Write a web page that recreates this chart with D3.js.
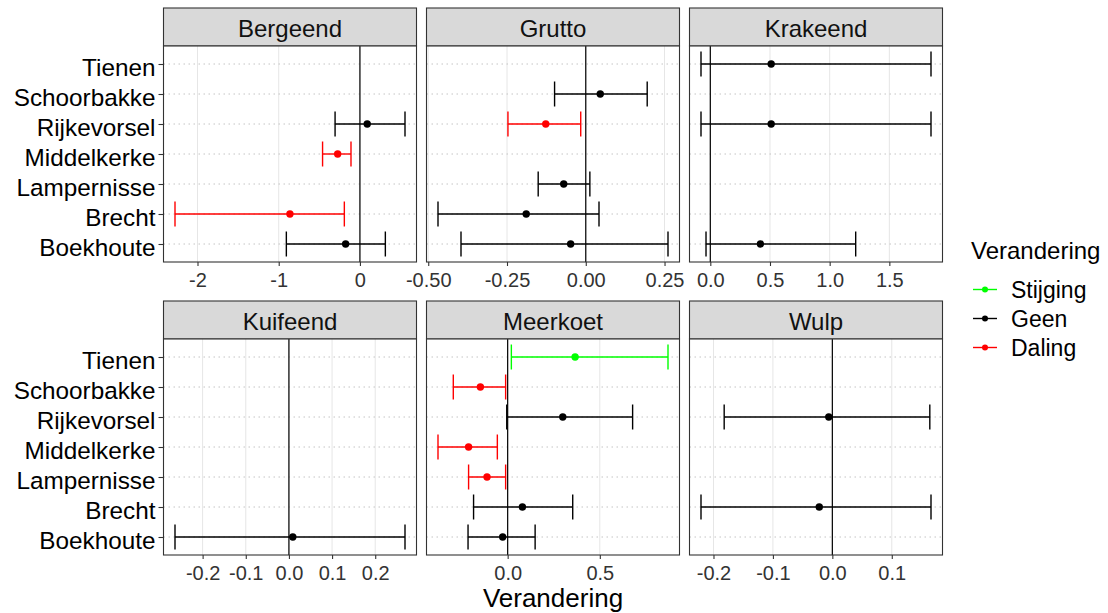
<!DOCTYPE html>
<html>
<head>
<meta charset="utf-8">
<script src="https://cdn.jsdelivr.net/npm/d3@7"></script>
<style>
	body { margin: 0; background: #fff; }
	text { font-family: "Liberation Sans", Arial, sans-serif; }
</style>
</head>
<body>
<div id="chart"></div>
<script>
// facets, sites (bottom to top) and legend levels
const species = ["Bergeend", "Grutto", "Krakeend", "Kuifeend", "Meerkoet", "Wulp"];
const sites = ["Boekhoute", "Brecht", "Lampernisse", "Middelkerke", "Rijkevorsel", "Schoorbakke", "Tienen"];
const changeLevels = ["Stijging", "Geen", "Daling"];
const changeColors = ["#00FF00", "#000000", "#FF0000"];

// one entry per estimate
const rowSpecies = [
	"Bergeend", "Bergeend", "Bergeend", "Bergeend",
	"Grutto", "Grutto", "Grutto", "Grutto", "Grutto",
	"Krakeend", "Krakeend", "Krakeend",
	"Kuifeend",
	"Meerkoet", "Meerkoet", "Meerkoet", "Meerkoet", "Meerkoet", "Meerkoet", "Meerkoet",
	"Wulp", "Wulp"];
const rowSite = [
	"Rijkevorsel", "Middelkerke", "Brecht", "Boekhoute",
	"Schoorbakke", "Rijkevorsel", "Lampernisse", "Brecht", "Boekhoute",
	"Tienen", "Rijkevorsel", "Boekhoute",
	"Boekhoute",
	"Tienen", "Schoorbakke", "Rijkevorsel", "Middelkerke", "Lampernisse", "Brecht", "Boekhoute",
	"Rijkevorsel", "Brecht"];
const rowEstimate = [
	0.09, -0.274, -0.862, -0.176,
	0.046, -0.127, -0.070, -0.189, -0.048,
	0.51, 0.51, 0.42,
	0.009,
	0.366, -0.148, 0.299, -0.212, -0.112, 0.080, -0.027,
	-0.006, -0.022];
const rowLower = [
	-0.306, -0.46, -2.277, -0.906,
	-0.099, -0.247, -0.151, -0.469, -0.396,
	-0.078, -0.078, -0.036,
	-0.264,
	0.020, -0.295, -0.005, -0.378, -0.212, -0.185, -0.215,
	-0.182, -0.221];
const rowUpper = [
	0.555, -0.11, -0.192, 0.313,
	0.195, -0.016, 0.013, 0.042, 0.261,
	1.849, 1.849, 1.218,
	0.269,
	0.870, -0.011, 0.678, -0.056, -0.011, 0.353, 0.149,
	0.164, 0.166];
const rowChange = [
	"Geen", "Daling", "Daling", "Geen",
	"Geen", "Daling", "Geen", "Geen", "Geen",
	"Geen", "Geen", "Geen",
	"Geen",
	"Stijging", "Daling", "Geen", "Daling", "Daling", "Geen", "Geen",
	"Geen", "Geen"];

// x tick values and labels per facet
const bergeendTicks = [-2, -1, 0];
const bergeendLabels = ["-2", "-1", "0"];
const gruttoTicks = [-0.5, -0.25, 0, 0.25];
const gruttoLabels = ["-0.50", "-0.25", "0.00", "0.25"];
const krakeendTicks = [0, 0.5, 1, 1.5];
const krakeendLabels = ["0.0", "0.5", "1.0", "1.5"];
const kuifeendTicks = [-0.2, -0.1, 0, 0.1, 0.2];
const kuifeendLabels = ["-0.2", "-0.1", "0.0", "0.1", "0.2"];
const meerkoetTicks = [0, 0.5];
const meerkoetLabels = ["0.0", "0.5"];
const wulpTicks = [-0.2, -0.1, 0, 0.1];
const wulpLabels = ["-0.2", "-0.1", "0.0", "0.1"];

const ticksBySpecies = [bergeendTicks, gruttoTicks, krakeendTicks, kuifeendTicks, meerkoetTicks, wulpTicks];
const labelsBySpecies = [bergeendLabels, gruttoLabels, krakeendLabels, kuifeendLabels, meerkoetLabels, wulpLabels];

const data = rowSpecies.map((s, i) => ({
	species: s,
	site: rowSite[i],
	est: rowEstimate[i],
	lo: rowLower[i],
	hi: rowUpper[i],
	change: rowChange[i]
}));

const W = 1108, H = 613;
const left = 163.5, panelW = 253, gapX = 10;
const stripTops = [8, 301];
const stripH = 38, panelH = 216;

const color = d3.scaleOrdinal().domain(changeLevels).range(changeColors);

const svg = d3.select("#chart").append("svg")
	.attr("width", W)
	.attr("height", H);

const y = d3.scalePoint()
	.domain(sites.slice().reverse())
	.range([0, panelH])
	.padding(0.6);

species.forEach((sp, idx) => {
	const col = idx % 3, row = Math.floor(idx / 3);
	const x0 = left + col * (panelW + gapX);
	const y0 = stripTops[row] + stripH;
	const rows = data.filter(d => d.species === sp);

	// ggplot style 5% expansion of the data range
	const lo = d3.min(rows, d => d.lo), hi = d3.max(rows, d => d.hi);
	const pad = (hi - lo) * 0.05;
	const x = d3.scaleLinear().domain([lo - pad, hi + pad]).range([0, panelW]);

	// strip
	const strip = svg.append("g").attr("transform", `translate(${x0},${stripTops[row]})`);
	strip.append("rect")
		.attr("width", panelW).attr("height", stripH)
		.attr("fill", "#D9D9D9").attr("stroke", "#333").attr("stroke-width", 1.1);
	strip.append("text")
		.attr("x", panelW / 2).attr("y", 28.5)
		.attr("text-anchor", "middle")
		.attr("font-size", 24).attr("fill", "#111")
		.text(sp);

	const g = svg.append("g").attr("transform", `translate(${x0},${y0})`);
	g.append("rect").attr("width", panelW).attr("height", panelH).attr("fill", "#fff");

	// vertical grid
	g.selectAll(".vgrid").data(ticksBySpecies[idx]).enter().append("line")
		.attr("x1", d => x(d)).attr("x2", d => x(d))
		.attr("y1", 0).attr("y2", panelH)
		.attr("stroke", "#E6E6E6").attr("stroke-width", 1);

	// dotted site lines
	g.selectAll(".hgrid").data(sites).enter().append("line")
		.attr("x1", 0).attr("x2", panelW)
		.attr("y1", d => y(d)).attr("y2", d => y(d))
		.attr("stroke", "#C4C4C4").attr("stroke-width", 1)
		.attr("stroke-dasharray", "1.5,3.5");

	// zero line
	g.append("line")
		.attr("x1", x(0)).attr("x2", x(0))
		.attr("y1", 0).attr("y2", panelH)
		.attr("stroke", "#000").attr("stroke-width", 1.2);

	// error bars
	const bars = g.selectAll(".bar").data(rows).enter().append("g")
		.attr("stroke", d => color(d.change))
		.attr("stroke-width", 1.4);
	bars.append("line")
		.attr("x1", d => x(d.lo)).attr("x2", d => x(d.hi))
		.attr("y1", d => y(d.site)).attr("y2", d => y(d.site));
	bars.append("line")
		.attr("x1", d => x(d.lo)).attr("x2", d => x(d.lo))
		.attr("y1", d => y(d.site) - 12.5).attr("y2", d => y(d.site) + 12.5);
	bars.append("line")
		.attr("x1", d => x(d.hi)).attr("x2", d => x(d.hi))
		.attr("y1", d => y(d.site) - 12.5).attr("y2", d => y(d.site) + 12.5);

	g.selectAll(".pt").data(rows).enter().append("circle")
		.attr("cx", d => x(d.est)).attr("cy", d => y(d.site))
		.attr("r", 3.7)
		.attr("fill", d => color(d.change));

	// panel border
	g.append("rect").attr("width", panelW).attr("height", panelH)
		.attr("fill", "none").attr("stroke", "#333").attr("stroke-width", 1.1);

	// x axis
	const labels = labelsBySpecies[idx];
	const xa = g.append("g").attr("transform", `translate(0,${panelH})`)
		.call(d3.axisBottom(x).tickValues(ticksBySpecies[idx])
			.tickFormat((d, i) => labels[i]).tickSize(4).tickPadding(7));
	xa.select(".domain").remove();
	xa.selectAll("line").attr("stroke", "#333").attr("stroke-width", 1.1);
	xa.selectAll("text").attr("font-size", 20).attr("fill", "#333")
		.attr("font-family", "Liberation Sans, Arial, sans-serif");

	// y axis only on the left column
	if (col === 0) {
		const ya = g.append("g")
			.call(d3.axisLeft(y).tickSize(5).tickPadding(3));
		ya.select(".domain").remove();
		ya.selectAll("line").attr("stroke", "#333").attr("stroke-width", 1.1);
		ya.selectAll("text").attr("font-size", 24.3).attr("fill", "#000")
			.attr("dy", "0.46em")
			.attr("font-family", "Liberation Sans, Arial, sans-serif");
	}
});

// axis title
svg.append("text")
	.attr("x", left + (3 * panelW + 2 * gapX) / 2)
	.attr("y", 606.5)
	.attr("text-anchor", "middle")
	.attr("font-size", 26)
	.text("Verandering");

// legend
const legend = svg.append("g").attr("transform", "translate(971,0)");
legend.append("text")
	.attr("x", 0).attr("y", 259)
	.attr("font-size", 24)
	.text("Verandering");
const items = legend.selectAll(".item").data(changeLevels).enter().append("g")
	.attr("transform", (d, i) => `translate(0,${289.5 + i * 29})`);
items.append("line")
	.attr("x1", 2).attr("x2", 26)
	.attr("stroke", d => color(d)).attr("stroke-width", 1.4);
items.append("circle")
	.attr("cx", 14).attr("r", 3)
	.attr("fill", d => color(d));
items.append("text")
	.attr("x", 40).attr("dy", "0.38em")
	.attr("font-size", 23)
	.text(d => d);
</script>
</body>
</html>
